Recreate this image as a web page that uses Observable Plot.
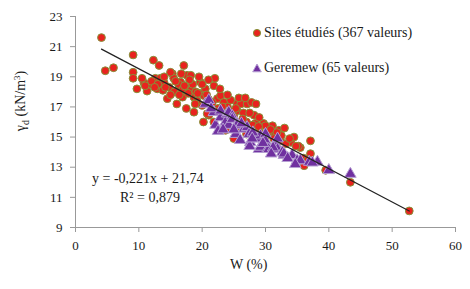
<!DOCTYPE html>
<html><head><meta charset="utf-8">
<script src="https://cdn.jsdelivr.net/npm/d3@7"></script>
<script src="https://cdn.jsdelivr.net/npm/@observablehq/plot@0.6"></script>
<style>
body{margin:0;background:#fff;}
#wrap{position:relative;width:470px;height:289px;font-family:"Liberation Serif","DejaVu Serif","Noto Serif",serif;color:#1a1a1a;}
.ov{position:absolute;white-space:nowrap;font-size:14px;line-height:1;}
</style></head><body>
<div id="wrap"></div>
<script>
// Sites étudiés (W %, γd kN/m³)
const sitesW = [4.1,4.7,6.0,9.1,9.1,9.1,9.7,10.8,11.3,12.3,13.2,12.9,12.6,14.5,15.3,11.9,13.4,15.5,16.6,17.1,15.0,17.6,18.2,19.7,18.2,16.1,16.9,18.7,19.7,20.5,21.85,22.4,20.0,18.7,23.4,25.5,25.0,21.05,20.3,22.9,24.5,26.1,27.1,25.5,28.2,29.7,31.1,32.1,28.4,30.0,34.0,32.4,23.7,21.85,20.8,30.0,30.3,33.2,37.1,37.1,36.1,39.5,43.4,52.7,
  14.0,14.8,15.6,16.3,17.0,17.8,18.5,19.2,19.0,20.0,21.0,21.5,22.0,22.5,23.0,23.5,24.0,24.5,26.5,27.0,27.5,28.0,29.0,29.0,26.0,31.5,32.5,33.0,34.5,35.5,36.0,16.0,17.5,20.2,12.0,13.0,15.0,22.8,24.0,25.8,27.8,28.5,26.8,19.5,21.0,18.0,16.7,14.0,25.0,27.0,10.5,11.0,13.8,14.2,17.3,19.3,23.2,24.8,26.4,30.8,31.8,33.8,35.2,36.7,
  15.8,17.2,18.9,20.7,21.6,22.2,23.9,25.3,28.9,31.3,34.8,12.5,16.4];
const sitesG = [21.6,19.4,19.6,20.45,19.3,18.9,18.2,18.6,18.05,20.1,19.75,18.2,18.9,17.55,19.2,18.5,18.9,18.9,18.65,19.75,19.3,19.1,19.1,18.65,18.2,18.1,17.65,17.65,17.9,18.2,18.4,17.55,17.1,16.65,17.3,17.2,16.45,16.45,17.75,17.75,17.45,17.2,17.2,16.75,16.45,15.9,15.75,15.45,15.9,15.0,14.65,14.75,15.45,16.0,16.55,15.75,15.2,14.55,14.75,13.9,13.1,12.8,12.0,10.1,
  18.6,18.3,18.0,18.5,18.2,17.9,18.5,17.4,18.0,18.5,17.5,17.0,18.9,16.9,16.5,16.8,17.0,16.3,16.6,16.0,16.6,15.8,16.3,15.4,15.7,15.2,15.1,15.6,15.0,14.3,13.6,17.2,16.9,16.0,18.7,18.5,17.8,18.2,17.8,17.6,17.3,17.2,17.6,19.0,18.8,18.8,19.2,19.0,14.9,15.2,18.9,18.4,18.1,18.3,18.4,17.9,17.0,16.7,16.2,15.5,15.3,14.9,14.4,13.5,
  18.7,18.4,17.2,17.8,17.3,16.7,16.6,16.9,15.7,14.9,14.4,18.3,17.8];
// Geremew
const gerW = [20.5,21.05,21.85,22.1,22.9,22.9,23.7,23.95,24.2,24.2,24.75,24.75,25.3,25.5,25.5,26.6,27.1,27.4,27.6,28.7,28.95,29.2,29.2,30.0,30.0,30.3,30.5,31.6,31.9,31.9,32.65,32.9,32.9,34.2,35.0,35.5,36.9,38.2,40.0,43.4,22.5,26.0,27.5,23.3,26.2,28.0,29.6,31.2,33.5,34.7,37.4,21.4,25.0,27.9,30.9];
const gerG = [17.2,17.45,16.65,15.8,16.3,16.75,16.0,16.55,15.8,16.65,16.4,16.2,15.2,15.9,15.8,15.55,15.65,15.2,14.65,14.9,14.2,15.1,14.35,15.2,14.75,14.2,14.2,14.55,14.9,14.2,14.0,13.8,13.9,13.8,13.45,13.45,13.35,13.35,12.8,12.55,15.4,14.8,14.4,15.5,15.9,15.3,14.6,14.3,13.6,13.2,13.3,16.9,15.5,14.9,13.9];
// Trend line (from chart equation)
const slope = -0.221, intercept = 21.74;
const trendW = [4.1, 52.7];
const xTicks = [0,10,20,30,40,50,60];
const yTicks = [9,11,13,15,17,19,21,23];

const sites = sitesW.map((w,i)=>({w, g: sitesG[i]}));
const ger = gerW.map((w,i)=>({w, g: gerG[i]}));
const trend = trendW.map(w=>({w, g: intercept + slope*w}));

const FF = '"Liberation Serif","DejaVu Serif","Noto Serif",serif';
const plot = Plot.plot({
  width: 470, height: 289,
  marginLeft: 75, marginRight: 15, marginTop: 16, marginBottom: 62,
  style: {fontFamily: FF, fontSize: "13px", color: "#1a1a1a", background: "#fff"},
  x: {domain: [0,60], ticks: xTicks, label: null, tickSize: 5, tickPadding: 8},
  y: {domain: [9,23], ticks: yTicks, label: null, tickSize: 5, tickPadding: 8},
  marks: [
    Plot.axisX({ticks: xTicks, tickSize: 5, tickPadding: 8, label: null, stroke: "#999", fill: "#1a1a1a"}),
    Plot.axisY({ticks: yTicks, tickSize: 5, tickPadding: 8, label: null, stroke: "#999", fill: "#1a1a1a"}),
    Plot.ruleX([0], {stroke: "#999"}),
    Plot.ruleY([9], {stroke: "#999"}),
    Plot.dot(sites, {x: "w", y: "g", r: 3.9, fill: "#e8231e", stroke: "#86933a", strokeWidth: 1}),
    Plot.dot(ger, {x: "w", y: "g", symbol: "triangle", r: 4.3, fill: "#7030a0", stroke: "#b6a0d2", strokeWidth: 1}),
    Plot.line(trend, {x: "w", y: "g", stroke: "#222", strokeWidth: 1.2})
  ]
});
const wrap = document.getElementById("wrap");
plot.style.position = "absolute"; plot.style.left = "0"; plot.style.top = "0";
wrap.appendChild(plot);

function ov(html, left, top, extra) {
  const d = document.createElement("div");
  d.className = "ov"; d.innerHTML = html;
  d.style.left = left + "px"; d.style.top = top + "px";
  if (extra) Object.assign(d.style, extra);
  wrap.appendChild(d);
  return d;
}
// legend
ov('<svg width="10" height="10" style="vertical-align:-1px;margin-right:2px"><circle cx="5" cy="5" r="3.6" fill="#e8231e" stroke="#86933a"/></svg>Sites étudiés (367 valeurs)', 252, 26);
ov('<svg width="10" height="10" style="vertical-align:-1px;margin-right:2px"><path d="M5,1 L9.3,8.8 L0.7,8.8 Z" fill="#7030a0" stroke="#b6a0d2"/></svg>Geremew (65 valeurs)', 252, 61);
// equation
ov('y = -0,221x + 21,74', 92, 172);
ov('R² = 0,879', 120, 191);
// axis labels
ov('W (%)', 230, 258);
ov('γ<sub style="font-size:10px">d</sub> (kN/m<sup style="font-size:9px">3</sup>)', 22, 101, {transform: "translate(-50%,-50%) rotate(-90deg)", fontSize: "14px"});
</script>
</body></html>
